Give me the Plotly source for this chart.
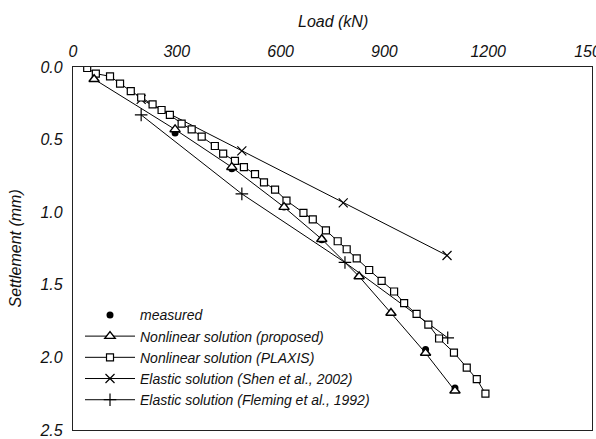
import plotly.graph_objects as go

# ---- data ----
measured_load = [295, 459, 610, 719, 1019, 1104]
measured_settl = [0.455, 0.70, 0.965, 1.19, 1.945, 2.21]

proposed_load = [61, 295, 459, 610, 719, 827, 919, 1019, 1104]
proposed_settl = [0.084, 0.43, 0.69, 0.965, 1.186, 1.443, 1.694, 1.97, 2.23]

plaxis_load = [41, 66, 107, 136, 167, 197, 230, 256, 280, 314, 343, 372, 410, 434,
               468, 494, 526, 552, 584, 617, 666, 693, 731, 765, 791, 820, 856,
               892, 928, 957, 993, 1027, 1058, 1101, 1138, 1167, 1192]
plaxis_settl = [0.007, 0.046, 0.064, 0.114, 0.166, 0.21, 0.257, 0.296, 0.33, 0.39,
                0.43, 0.48, 0.544, 0.596, 0.647, 0.69, 0.738, 0.794, 0.845, 0.92,
                1.004, 1.05, 1.125, 1.2, 1.255, 1.318, 1.398, 1.473, 1.546, 1.626,
                1.70, 1.774, 1.87, 1.967, 2.07, 2.15, 2.25]

shen_load = [197, 488, 781, 1081]
shen_settl = [0.223, 0.578, 0.936, 1.298]

fleming_load = [197, 488, 786, 1083]
fleming_settl = [0.33, 0.874, 1.346, 1.865]

x_ticks = [0, 300, 600, 900, 1200, 1500]
y_ticks = [0.0, 0.5, 1.0, 1.5, 2.0, 2.5]

FONT = "Liberation Sans"
fig = go.Figure()

fig.add_trace(go.Scatter(
    x=fleming_load, y=fleming_settl, mode="lines+markers",
    name="Elastic solution (Fleming et al., 1992)", legendrank=5,
    line=dict(color="black", width=1),
    marker=dict(symbol="cross-thin", size=9, color="black", line=dict(color="black", width=1.2))))
fig.add_trace(go.Scatter(
    x=shen_load, y=shen_settl, mode="lines+markers",
    name="Elastic solution (Shen et al., 2002)", legendrank=4,
    line=dict(color="black", width=1),
    marker=dict(symbol="x-thin", size=9, color="black", line=dict(color="black", width=1.2))))
fig.add_trace(go.Scatter(
    x=plaxis_load, y=plaxis_settl, mode="lines+markers",
    name="Nonlinear solution (PLAXIS)", legendrank=3,
    line=dict(color="black", width=1),
    marker=dict(symbol="square", size=7, color="white", line=dict(color="black", width=1.2))))
fig.add_trace(go.Scatter(
    x=measured_load, y=measured_settl, mode="markers",
    name="measured", legendrank=1,
    marker=dict(symbol="circle", size=7, color="black")))
fig.add_trace(go.Scatter(
    x=proposed_load, y=proposed_settl, mode="lines+markers",
    name="Nonlinear solution (proposed)", legendrank=2,
    line=dict(color="black", width=1),
    marker=dict(symbol="triangle-up", size=9, color="white", line=dict(color="black", width=1.4))))

tick_font = dict(family=FONT, size=16, color="#111")
axis_common = dict(showgrid=False, zeroline=False, showline=True, linecolor="#222",
                   linewidth=1.3, mirror=True, ticks="outside",
                   tickcolor="rgba(0,0,0,0)", tickfont=tick_font,
                   ticklabeloverflow="allow", automargin=False)

fig.update_layout(
    width=596, height=439,
    margin=dict(l=73, r=4, t=67, b=9, autoexpand=False),
    paper_bgcolor="white", plot_bgcolor="white",
    xaxis=dict(side="top", range=[0, 1500], tickvals=x_ticks, ticklen=2,
               ticktext=["<i>%d</i>" % v for v in x_ticks], **axis_common),
    yaxis=dict(range=[2.5, 0], tickvals=y_ticks, ticklen=6,
               ticktext=["<i>%.1f</i>" % v for v in y_ticks], **axis_common),
    showlegend=True,
    legend=dict(x=0.0135, y=0.36, xanchor="left", yanchor="top",
                bgcolor="rgba(0,0,0,0)", itemwidth=50, tracegroupgap=0,
                font=dict(family=FONT, size=14, style="italic", color="#111")),
    annotations=[
        dict(text="<i>Load (kN)</i>", x=0.5, y=1, xref="paper", yref="paper",
             xanchor="center", yanchor="bottom", yshift=35, showarrow=False,
             font=dict(family=FONT, size=16, color="#111")),
        dict(text="<i>Settlement (mm)</i>", x=0, y=0.5, xref="paper", yref="paper",
             xanchor="center", yanchor="middle", xshift=-58, textangle=-90,
             showarrow=False,
             font=dict(family=FONT, size=16, color="#111")),
    ],
)

fig.write_html(
    "out.html", config={"displayModeBar": False},
    post_script=("document.body.style.margin='0';"
                 "document.body.style.overflow='hidden';"))
